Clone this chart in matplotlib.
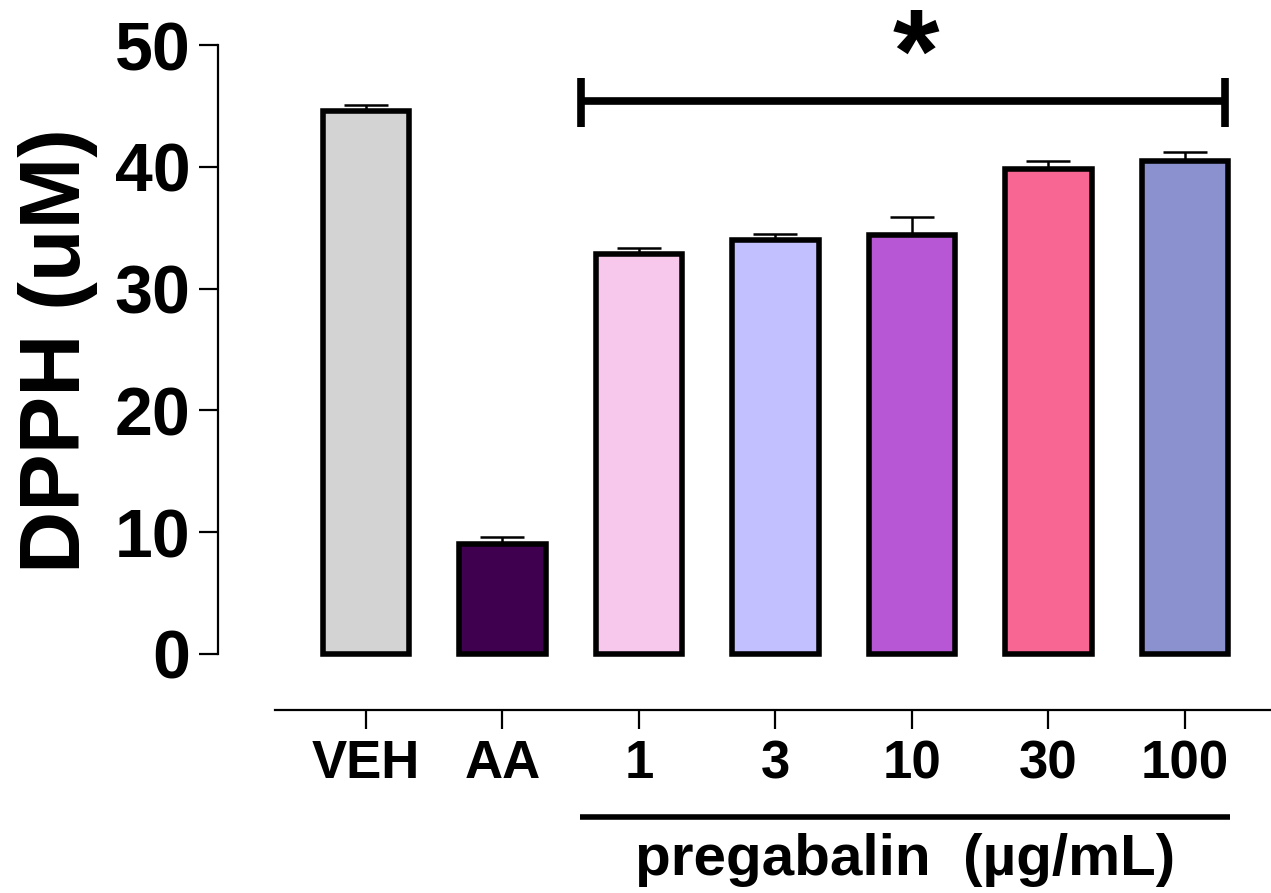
import matplotlib
matplotlib.use("Agg")
import matplotlib.pyplot as plt
import numpy as np

plt.rcParams['font.family'] = ['Liberation Sans', 'DejaVu Sans']
plt.rcParams['font.weight'] = 'bold'

categories = ["VEH", "AA", "1", "3", "10", "30", "100"]
means = [44.6, 9.0, 32.8, 34.0, 34.4, 39.8, 40.5]
sems = [0.45, 0.6, 0.5, 0.5, 1.5, 0.7, 0.7]
colors = ["#d3d3d3", "#400050", "#f7c8ec", "#c2c0fe", "#b757d6", "#f86794", "#8b90cf"]
group_label = "pregabalin  (µg/mL)"
y_label = "DPPH (uM)"
y_ticks = [0, 10, 20, 30, 40, 50]

fig = plt.figure(figsize=(12.71, 8.93), dpi=100)
ax = fig.add_axes([218/1271, 1-710/893, 1-218/1271, (710-45)/893])

x = np.arange(len(categories))
ax.errorbar(x, means, yerr=[np.zeros(len(sems)), sems], fmt='none',
            ecolor='black', elinewidth=1.8, capsize=16, capthick=1.8, zorder=1)
ax.bar(x, means, width=0.632, color=colors, edgecolor='black', linewidth=4.0, zorder=2)

ax.set_xlim(-1.084, 6.63)
ax.set_ylim(-4.6, 50)
ax.spines['top'].set_visible(False)
ax.spines['right'].set_visible(False)
ax.spines['left'].set_bounds(0, 50)
ax.spines['bottom'].set_bounds(-0.667, 6.63)
ax.spines['left'].set_linewidth(1.6)
ax.spines['bottom'].set_linewidth(1.6)

ax.set_yticks(y_ticks)
ax.set_yticklabels([str(t) for t in y_ticks], fontsize=49, fontweight='bold')
ax.set_xticks(x)
ax.set_xticklabels(categories, fontsize=38, fontweight='bold')
ax.tick_params(axis='y', length=14, width=1.6, pad=6)
ax.tick_params(axis='x', length=14, width=1.6, pad=7)

ax.set_ylabel(y_label, fontsize=62, fontweight='bold')
ax.yaxis.set_label_coords(-0.114, 0.541)

# significance bracket
bx0, bx1, by = 1.575, 6.29, 45.4
ax.plot([bx0, bx1], [by, by], color='black', lw=5.5, clip_on=False, solid_capstyle='butt')
for bx in (bx0, bx1):
    ax.plot([bx, bx], [by - 2.1, by + 1.9], color='black', lw=5.5, clip_on=False, solid_capstyle='butt')
ax.text(4.03, 46.2, "*", fontsize=86, fontweight='bold', ha='center', va='baseline', clip_on=False)

# group underline and label
ax.plot([1.568, 6.33], [-13.4, -13.4], color='black', lw=4, clip_on=False, solid_capstyle='butt')
ax.text(3.95, -16.9, group_label, fontsize=42, fontweight='bold', ha='center', va='center', clip_on=False)

fig.savefig("out.png", dpi=100)
